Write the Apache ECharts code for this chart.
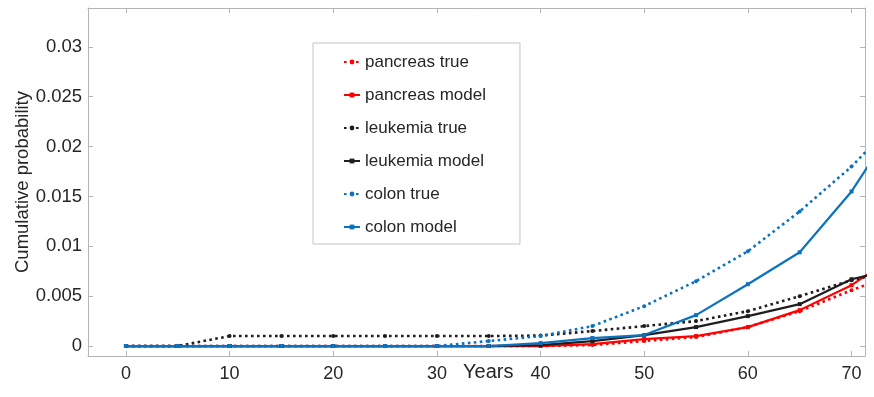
<!DOCTYPE html>
<html>
<head>
<meta charset="utf-8">
<script src="https://cdn.jsdelivr.net/npm/echarts@6/dist/echarts.min.js"></script>
<style>html,body{margin:0;padding:0;background:#fff;}#c{width:874px;height:397px;}</style>
</head>
<body>
<div id="c"></div>
<script>
const years = [0,5,10,15,20,25,30,35,40,45,50,55,60,65,70,75];
const pancreasTrue  = [0,0,0,0,0,0,0,0,0,0.0001,0.0005,0.0009,0.0019,0.0035,0.0056,0.0075];
const pancreasModel = [0,0,0,0,0,0,0,0,0,0.0002,0.0007,0.0010,0.0019,0.0036,0.0061,0.0096];
const leukemiaTrue  = [0,0,0.001,0.001,0.001,0.001,0.001,0.001,0.00105,0.0015,0.0020,0.0025,0.0035,0.0050,0.0066,0.0078];
const leukemiaModel = [0,0,0,0,0,0,0,0,0.0001,0.0005,0.0011,0.0019,0.0030,0.0042,0.0067,0.0079];
const colonTrue     = [0,0,0,0,0,0,0,0.0005,0.0010,0.0020,0.0040,0.0065,0.0095,0.0135,0.0180,0.0234];
const colonModel    = [0,0,0,0,0,0,0,0,0.0003,0.0008,0.0011,0.0031,0.0062,0.0094,0.0155,0.0235];
const xTicks = [0,10,20,30,40,50,60,70];
const yTicks = [0,0.005,0.01,0.015,0.02,0.025,0.03];
const yTickLabels = ['0','0.005','0.01','0.015','0.02','0.025','0.03'];

const FONT = "'Liberation Sans', Helvetica, Arial, sans-serif";
const TXT = '#262626';
const AXC = '#b4b4b4';

function pts(arr){ return years.map((x,i)=>[x,arr[i]]); }
function ser(name, arr, color, dotted, sym){
  return {
    name, type:'line', data: pts(arr), clip:true,
    symbol: sym, symbolSize: 4, showSymbol:true,
    itemStyle:{color},
    lineStyle:{color, width: dotted?2.6:2.2, type: dotted?[2.6,3.4]:'solid'},
    emphasis:{disabled:true}, animation:false, z: 3
  };
}
const chart = echarts.init(document.getElementById('c'), null, {renderer:'canvas'});
const xMin = -3.66, xMax = 71.3, yMin = -0.001, yMax = 0.0339;
const tickLen = 5;
chart.setOption({
  animation:false,
  textStyle:{fontFamily:FONT},
  grid:{left:88, right:9, top:8, bottom:41, containLabel:false, outerBoundsMode:'none'},
  xAxis:[{
    type:'value', min:xMin, max:xMax, position:'bottom',
    splitLine:{show:false},
    axisLine:{show:true, onZero:false, lineStyle:{color:AXC, width:1}},
    axisTick:{show:true, inside:true, length:tickLen, customValues:xTicks, lineStyle:{color:AXC}},
    axisLabel:{show:true, customValues:xTicks, color:TXT, fontSize:18, fontFamily:FONT, margin:9}
  },{
    type:'value', min:xMin, max:xMax, position:'top',
    splitLine:{show:false},
    axisLine:{show:true, onZero:false, lineStyle:{color:AXC, width:1}},
    axisTick:{show:true, inside:true, length:tickLen, customValues:xTicks, lineStyle:{color:AXC}},
    axisLabel:{show:false}
  }],
  yAxis:[{
    type:'value', min:yMin, max:yMax, position:'left',
    name:'Cumulative probability', nameLocation:'middle', nameGap:56, nameMoveOverlap:false,
    nameTextStyle:{color:TXT, fontSize:18.5, fontFamily:FONT},
    splitLine:{show:false},
    axisLine:{show:true, onZero:false, lineStyle:{color:AXC, width:1}},
    axisTick:{show:true, inside:true, length:tickLen, customValues:yTicks, lineStyle:{color:AXC}},
    axisLabel:{show:true, customValues:yTicks, color:TXT, fontSize:18.5, fontFamily:FONT, margin:6,
      formatter:(v)=>{ const i = yTicks.findIndex(t=>Math.abs(t-v)<1e-9); return i>=0?yTickLabels[i]:''; }}
  },{
    type:'value', min:yMin, max:yMax, position:'right',
    splitLine:{show:false},
    axisLine:{show:true, onZero:false, lineStyle:{color:AXC, width:1}},
    axisTick:{show:true, inside:true, length:tickLen, customValues:yTicks, lineStyle:{color:AXC}},
    axisLabel:{show:false}
  }],
  legend:{
    orient:'vertical', left:313, top:43,
    padding:[9,34,7,30], itemWidth:16, itemHeight:6, itemGap:13,
    backgroundColor:'#fff', borderColor:'#c4c4c4', borderWidth:1,
    textStyle:{color:TXT, fontSize:17, lineHeight:20, fontFamily:FONT},
    data:['pancreas true','pancreas model','leukemia true','leukemia model','colon true','colon model']
  },
  graphic:[{
    type:'text', left:463, top:362,
    style:{text:'Years', fill:TXT, font:"20px 'Liberation Sans', Helvetica, Arial, sans-serif"}
  }],
  series:[
    ser('pancreas true', pancreasTrue, '#ff0000', true, 'circle'),
    ser('pancreas model', pancreasModel, '#ff0000', false, 'rect'),
    ser('leukemia true', leukemiaTrue, '#1e1e1e', true, 'circle'),
    ser('leukemia model', leukemiaModel, '#1e1e1e', false, 'rect'),
    ser('colon true', colonTrue, '#0b72bf', true, 'circle'),
    ser('colon model', colonModel, '#0b72bf', false, 'rect')
  ]
});
</script>
</body>
</html>
